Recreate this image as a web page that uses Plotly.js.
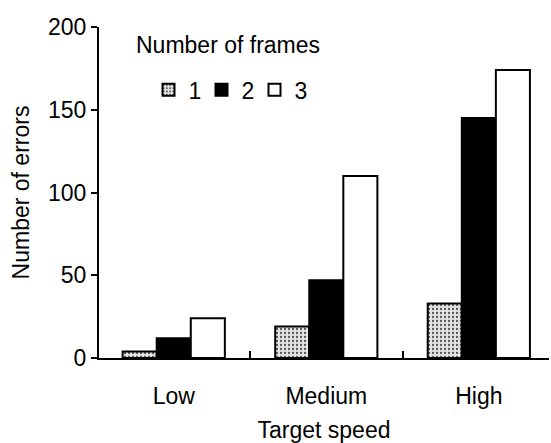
<!DOCTYPE html>
<html>
<head>
<meta charset="utf-8">
<script src="https://cdn.plot.ly/plotly-3.0.1.min.js"></script>
<style>html,body{margin:0;padding:0;background:#fff;}#chart{width:551px;height:443px;}</style>
</head>
<body>
<div id="chart"></div>
<script>
const categories = ["Low", "Medium", "High"];
const frames1 = [4, 19, 33];
const frames2 = [12, 47, 145];
const frames3 = [24, 110, 174];
const seriesNames = ["1", "2", "3"];
const yTicks = [0, 50, 100, 150, 200];
const legendTitle = "Number of frames";

const lineStyle = {color: "#000", width: 2};
const traces = [
  {type: "bar", name: seriesNames[0], x: categories, y: frames1,
   marker: {color: "#e4e4e4", line: lineStyle,
            pattern: {shape: ".", fgcolor: "#555", bgcolor: "#e4e4e4", size: 4, solidity: 0.25}}},
  {type: "bar", name: seriesNames[1], x: categories, y: frames2,
   marker: {color: "#000", line: lineStyle}},
  {type: "bar", name: seriesNames[2], x: categories, y: frames3,
   marker: {color: "#fff", line: lineStyle}}
];

const FS = 23;
const font = {family: "Liberation Sans, Arial, sans-serif", size: FS, color: "#000"};
const layout = {
  width: 551, height: 443,
  margin: {l: 99, r: 2, t: 27, b: 85},
  paper_bgcolor: "#fff", plot_bgcolor: "#fff",
  font: font,
  barmode: "group", bargap: 0.33, bargroupgap: 0,
  showlegend: true,
  legend: {
    orientation: "h", x: 0.11, y: 0.81, xanchor: "left", yanchor: "middle",
    font: {size: FS}, entrywidth: 8, tracegroupgap: 0, bgcolor: "rgba(0,0,0,0)"
  },
  annotations: [{
    text: legendTitle, xref: "paper", yref: "paper", x: 0.077, y: 0.946,
    xanchor: "left", yanchor: "middle", showarrow: false, font: {size: FS}
  }],
  xaxis: {
    type: "category", range: [-0.49, 2.46],
    showline: true, linecolor: "#000", linewidth: 2,
    ticks: "inside", tickson: "boundaries", ticklen: 7, tickwidth: 2, tickcolor: "#000",
    showgrid: false, zeroline: false,
    tickfont: {size: FS}, ticklabelstandoff: 16,
    title: {text: "Target speed", font: {size: FS}, standoff: 22}
  },
  yaxis: {
    range: [0, 200], tickvals: yTicks,
    showline: true, linecolor: "#000", linewidth: 2,
    ticks: "outside", ticklen: 6, tickwidth: 2, tickcolor: "#000",
    showgrid: false, zeroline: false,
    tickfont: {size: FS},
    title: {text: "Number of errors", font: {size: FS}, standoff: 12}
  }
};
Plotly.newPlot("chart", traces, layout, {staticPlot: true});
</script>
</body>
</html>
